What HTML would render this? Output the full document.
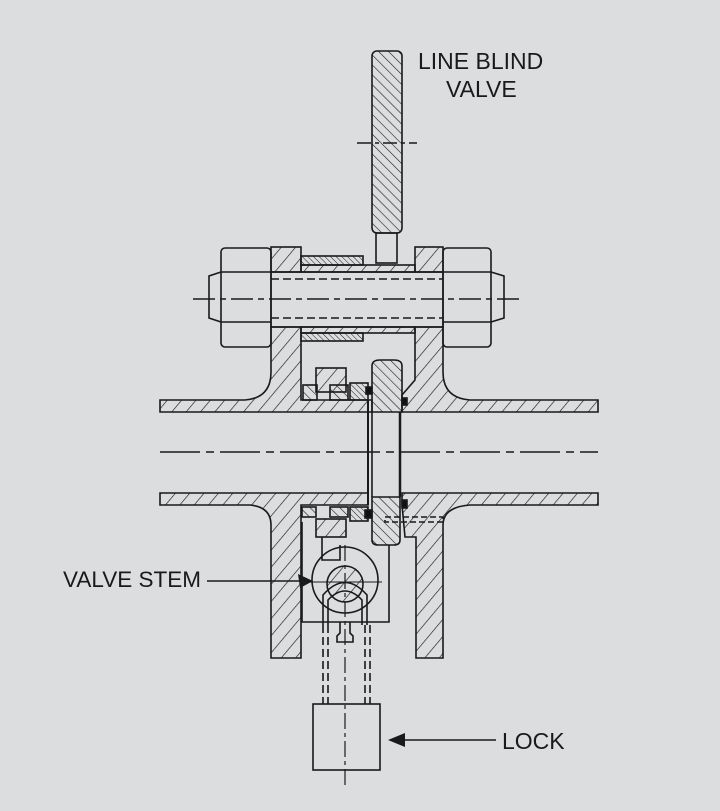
<!DOCTYPE html>
<html><head><meta charset="utf-8"><style>
html,body{margin:0;padding:0;background:#dcdddf;}
svg{display:block}
text{font-family:"Liberation Sans",sans-serif;fill:#1a1a1a}
</style></head><body>
<svg width="720" height="811" viewBox="0 0 720 811" xmlns="http://www.w3.org/2000/svg">
<defs>
<pattern id="h" width="11" height="11" patternUnits="userSpaceOnUse" patternTransform="rotate(40)">
<line x1="0" y1="0" x2="0" y2="11" stroke="#1a1a1a" stroke-width="1.3"/></pattern>
<pattern id="h2" width="7" height="7" patternUnits="userSpaceOnUse" patternTransform="rotate(-45)">
<line x1="0" y1="0" x2="0" y2="7" stroke="#1a1a1a" stroke-width="1.2"/></pattern>
<pattern id="h3" width="4" height="4" patternUnits="userSpaceOnUse" patternTransform="rotate(-45)">
<line x1="0" y1="0" x2="0" y2="4" stroke="#1a1a1a" stroke-width="1"/></pattern>
</defs>
<rect width="720" height="811" fill="#dcdddf"/>
<g stroke="#1a1a1a" stroke-width="1.6" fill="none">
<rect x="372" y="51" width="30" height="182" rx="5" fill="url(#h2)"/>
<line x1="357" y1="143" x2="417" y2="143" stroke-dasharray="14,4,4,4"/>
<rect x="376" y="233" width="21" height="30"/>
<rect x="221" y="248" width="50" height="99" rx="4"/>
<path d="M221 272 L209 276 L209 318 L221 322"/>
<line x1="221" y1="272" x2="271" y2="272"/><line x1="221" y1="322" x2="271" y2="322"/>
<rect x="443" y="248" width="48" height="99" rx="4"/>
<path d="M491 272 L504 276 L504 318 L491 322"/>
<line x1="443" y1="272" x2="491" y2="272"/><line x1="443" y1="322" x2="491" y2="322"/>
<rect x="271" y="272" width="172" height="55"/>
<line x1="271" y1="279" x2="443" y2="279" stroke-dasharray="8,4"/>
<line x1="271" y1="318" x2="443" y2="318" stroke-dasharray="8,4"/>
<line x1="193" y1="299" x2="520" y2="299" stroke-dasharray="22,5,6,5"/>
<rect x="271" y="247" width="30" height="25" fill="url(#h)"/>
<rect x="415" y="247" width="28" height="25" fill="url(#h)"/>
<rect x="301" y="256" width="62" height="9" fill="url(#h3)"/>
<rect x="301" y="265" width="114" height="7" fill="url(#h)"/>
<rect x="301" y="327" width="114" height="6" fill="url(#h)"/>
<rect x="301" y="333" width="62" height="8" fill="url(#h3)"/>
<path d="M271 327 L301 327 L301 400 L372 400 L372 412 L160 412 L160 400 L245 400 Q271 398 271 372 Z" fill="url(#h)"/>
<path d="M415 327 L443 327 L443 372 Q443 398 470 400 L598 400 L598 412 L402 412 L402 395 L415 380 Z" fill="url(#h)"/>
<path d="M372 366 Q372 360 380 360 L394 360 Q402 360 402 366 L402 412 L372 412 Z" fill="url(#h2)"/>
<rect x="316" y="368" width="30" height="24" fill="url(#h)"/>
<rect x="303" y="385" width="14" height="15" fill="url(#h2)"/>
<rect x="330" y="385" width="18" height="15" fill="url(#h2)"/>
<rect x="350" y="383" width="18" height="17" fill="url(#h3)"/>
<rect x="366" y="387" width="6" height="7" fill="#111"/>
<rect x="402" y="398" width="5" height="7" fill="#111"/>
<line x1="368" y1="400" x2="368" y2="505" stroke-width="2"/>
<line x1="372" y1="412" x2="372" y2="497"/>
<line x1="400" y1="412" x2="400" y2="497" stroke-width="2.5"/>
<line x1="160" y1="452" x2="598" y2="452" stroke-dasharray="40,6,8,6"/>
<path d="M160 493 L368 493 L368 505 L301 505 L301 658 L271 658 L271 525 Q271 507 250 505 L160 505 Z" fill="url(#h)"/>
<path d="M402 493 L598 493 L598 505 L470 505 Q443 507 443 525 L443 658 L416 658 L416 537 L405 537 L402 505 Z" fill="url(#h)"/>
<path d="M372 497 L400 497 L400 540 Q400 545 394 545 L378 545 Q372 545 372 540 Z" fill="url(#h2)"/>
<rect x="302" y="507" width="14" height="10" fill="url(#h2)"/>
<rect x="330" y="507" width="18" height="10" fill="url(#h2)"/>
<rect x="350" y="507" width="18" height="14" fill="url(#h3)"/>
<rect x="365" y="510" width="7" height="8" fill="#111"/>
<rect x="316" y="519" width="30" height="18" fill="url(#h)"/>
<rect x="385" y="517" width="58" height="5" stroke-dasharray="6,3"/>
<rect x="402" y="500" width="5" height="8" fill="#111"/>
<path d="M302 522 L302 622 L389 622 L389 545"/>
<path d="M322 537 L322 560 L340 560 L340 545"/>
<circle cx="345" cy="580" r="33"/>
<circle cx="345" cy="584" r="18" fill="url(#h)"/>
<line x1="310" y1="582" x2="382" y2="582" stroke-width="1"/>
<path d="M323 625 L323 595 Q345 570 367 595 L367 625"/>
<path d="M328 625 L328 600 Q345 582 362 600 L362 625"/>
<path d="M340 622 L340 633 L337 636 L337 642 L353 642 L353 636 L350 633 L350 622"/>
<line x1="323" y1="625" x2="323" y2="704" stroke-dasharray="8,4"/>
<line x1="328" y1="625" x2="328" y2="704" stroke-dasharray="8,4"/>
<line x1="365" y1="625" x2="365" y2="704" stroke-dasharray="8,4"/>
<line x1="370" y1="625" x2="370" y2="704" stroke-dasharray="8,4"/>
<line x1="345" y1="545" x2="345" y2="785" stroke-dasharray="16,4,4,4" stroke-width="1.2"/>
<rect x="313" y="704" width="67" height="66"/>
<line x1="207" y1="581" x2="302" y2="581"/>
<line x1="398" y1="740" x2="496" y2="740"/>
</g>
<polygon points="313,581 298,574 300,588" fill="#1a1a1a"/>
<polygon points="388,740 405,733 405,747" fill="#1a1a1a"/>
<text x="418" y="69" font-size="23">LINE BLIND</text>
<text x="446" y="97" font-size="23">VALVE</text>
<text x="63" y="587" font-size="22.5">VALVE STEM</text>
<text x="502" y="749" font-size="23">LOCK</text>
</svg>
</body></html>
